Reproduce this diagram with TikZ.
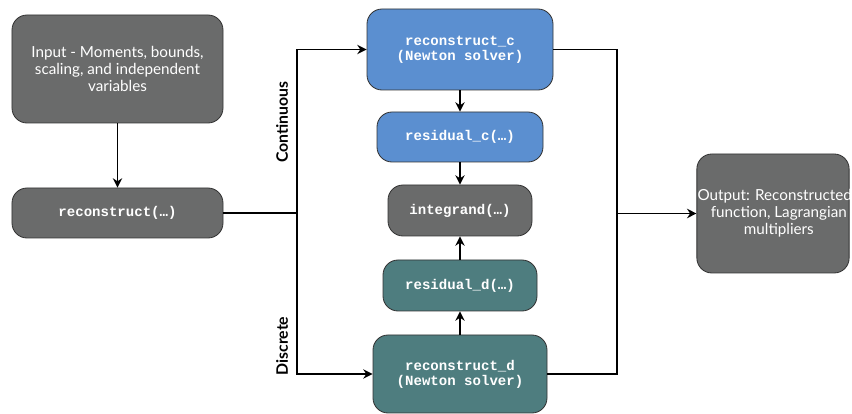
\documentclass[tikz,border=0pt]{standalone}
\usepackage{fontspec}
\setmainfont{Lato}
\setmonofont{Liberation Mono}
\usetikzlibrary{arrows.meta}

\definecolor{boxgray}{HTML}{6A6B6B}
\definecolor{boxblue}{HTML}{5B8FD0}
\definecolor{boxteal}{HTML}{4E7D7F}
\definecolor{boxedge}{HTML}{333333}

\tikzset{
  box/.style={draw=boxedge, line width=0.7pt, rounded corners=0.45cm, text=white, align=center, inner sep=2pt},
  txtbox/.style={box, fill=boxgray, font=\fontsize{13}{14.5}\selectfont},
  codebox/.style={box, font=\fontsize{12}{13}\selectfont\ttfamily\bfseries},
  link/.style={line width=1.4pt, -{Stealth[length=8pt,width=8pt]}},
  wire/.style={line width=1.4pt},
  branch/.style={rotate=90, font=\fontsize{13.5}{15}\selectfont\bfseries}
}

\begin{document}
\begin{tikzpicture}
  \useasboundingbox (0,0) rectangle (25.56,-12.42);

  % Left column
  \node[txtbox, minimum width=6.33cm, minimum height=3.24cm] (input) at (3.525,-2.07)
    {Input - Moments, bounds,\\scaling, and independent\\variables};
  \node[codebox, fill=boxgray, minimum width=6.33cm, minimum height=1.5cm] (recon) at (3.525,-6.39)
    {reconstruct(…)};

  % Middle column
  \node[codebox, fill=boxblue, minimum width=5.58cm, minimum height=2.43cm] (recC) at (13.8,-1.485)
    {reconstruct\_c\\(Newton solver)};
  \node[codebox, fill=boxblue, minimum width=4.98cm, minimum height=1.5cm] (resC) at (13.8,-4.11)
    {residual\_c(…)};
  \node[codebox, fill=boxgray, minimum width=4.32cm, minimum height=1.53cm] (integ) at (13.8,-6.315)
    {integrand(…)};
  \node[codebox, fill=boxteal, minimum width=4.62cm, minimum height=1.53cm] (resD) at (13.8,-8.565)
    {residual\_d(…)};
  \node[codebox, fill=boxteal, minimum width=5.22cm, minimum height=2.34cm] (recD) at (13.8,-11.22)
    {reconstruct\_d\\(Newton solver)};

  % Right column (first line runs past the box, as in the source)
  \node[txtbox, minimum width=4.56cm, minimum height=3.57cm] (output) at (23.19,-6.405)
    {\hspace*{0.1cm}\makebox[3.6cm]{Output: Reconstructed}\\\hspace*{0.35cm}function, Lagrangian\\\hspace*{0.35cm}multipliers};

  % Junctions
  \coordinate (split) at (8.91,-6.39);
  \coordinate (merge) at (18.51,-6.405);

  % Connectors
  \draw[link] (input) -- (recon);
  \draw[wire] (recon.east) -- (split);
  \draw[link] (split) |- (recC.west);
  \draw[link] (split) |- (recD.west);
  \draw[wire] (recC.east) -| (merge);
  \draw[wire] (recD.east) -| (merge);
  \draw[link] (merge) -- (output.west);

  \draw[link] (recC) -- (resC);
  \draw[link] (resC) -- (integ);
  \draw[link] (resD) -- (integ);
  \draw[link] (recD) -- (resD);

  % Branch labels
  \node[branch] (cont) at (8.46,-3.66) {Continuous};
  \node[branch] (disc) at (8.46,-10.38) {Discrete};
\end{tikzpicture}
\end{document}
